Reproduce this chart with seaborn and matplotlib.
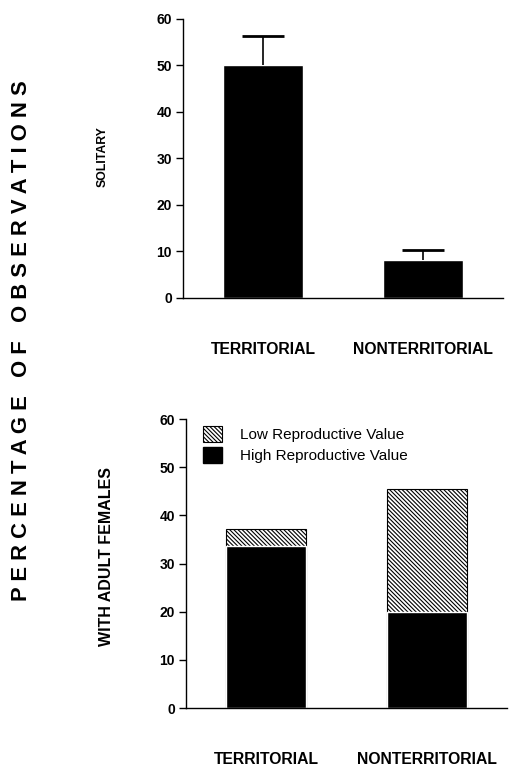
import pandas as pd
import numpy as np
import matplotlib
matplotlib.use('Agg')
import matplotlib.pyplot as plt
import matplotlib.patches as mpatches
import seaborn as sns

# values
groups = ['TERRITORIAL', 'NONTERRITORIAL']
solitary = [50.0, 8.2]
solitary_se = [6.4, 2.1]
high_rv = [33.6, 20.0]
low_rv = [3.6, 25.5]
yticks = [0, 10, 20, 30, 40, 50, 60]

df = pd.DataFrame({'group': groups,
                   'solitary': solitary,
                   'high': high_rv,
                   'total': np.array(high_rv) + np.array(low_rv)})

sns.set_style('ticks')
plt.rcParams['font.family'] = ['Liberation Sans', 'DejaVu Sans']
plt.rcParams['hatch.linewidth'] = 0.8
plt.rcParams['text.color'] = 'black'

fig = plt.figure(figsize=(5.16, 7.66), dpi=100)
ax1 = fig.add_axes([0.3547, 0.611, 0.6202, 0.3642])
ax2 = fig.add_axes([0.3605, 0.0757, 0.6221, 0.3773])

# top panel: solitary
sns.barplot(data=df, x='group', y='solitary', color='black', saturation=1,
            width=0.5, errorbar=None, ax=ax1)
xpos = np.arange(len(groups))
eb = ax1.errorbar(xpos, solitary, yerr=[np.zeros(len(groups)), solitary_se],
                  fmt='none', ecolor='black', elinewidth=1.2, capsize=15,
                  capthick=2)
# only the upper cap, like the original
eb[1][0].set_visible(False)

# bottom panel: stacked bars
hatch = '\\\\\\\\\\\\\\\\'
sns.barplot(data=df, x='group', y='total', color='white', saturation=1,
            width=0.5, errorbar=None, ax=ax2, hatch=hatch,
            edgecolor='black', linewidth=0.8)
sns.barplot(data=df, x='group', y='high', color='black', saturation=1,
            width=0.5, errorbar=None, ax=ax2)

handles = [mpatches.Patch(facecolor='white', edgecolor='black', hatch=hatch,
                          linewidth=0.8, label='Low Reproductive Value'),
           mpatches.Patch(facecolor='black', edgecolor='black',
                          label='High Reproductive Value')]
ax2.legend(handles=handles, loc='upper left', bbox_to_anchor=(0.053, 0.975),
           frameon=False, fontsize=11, borderpad=0, borderaxespad=0,
           handlelength=1.25, handleheight=1.18, handletextpad=1.2,
           labelspacing=0.33)

for ax in (ax1, ax2):
    ax.set_ylim(0, 60)
    ax.set_xlim(-0.5, 1.5)
    ax.set_yticks(yticks)
    ax.set_yticklabels([str(t) for t in yticks], fontsize=10, fontweight='bold')
    ax.set_xticks(xpos)
    ax.set_xticklabels(groups, fontsize=11.3, fontweight='bold')
    ax.set_xlabel('')
    ax.set_ylabel('')
    ax.tick_params(axis='y', length=5, width=1, pad=3, colors='black')
    ax.tick_params(axis='x', length=0, pad=32, colors='black')
    for s in ('left', 'bottom'):
        ax.spines[s].set_linewidth(1)
        ax.spines[s].set_color('black')
    sns.despine(ax=ax)

fig.text(0.198, 0.795, 'SOLITARY', rotation=90, ha='center', va='center',
         fontsize=8.8, fontweight='bold')
fig.text(0.206, 0.273, 'WITH ADULT FEMALES', rotation=90, ha='center',
         va='center', fontsize=11.5, fontweight='bold')

big = '   '.join(' '.join(w) for w in 'PERCENTAGE OF OBSERVATIONS'.split())
fig.text(0.041, 0.555, big, rotation=90, ha='center', va='center',
         fontsize=15.8, fontweight='bold')

fig.savefig('out.png', dpi=100)
